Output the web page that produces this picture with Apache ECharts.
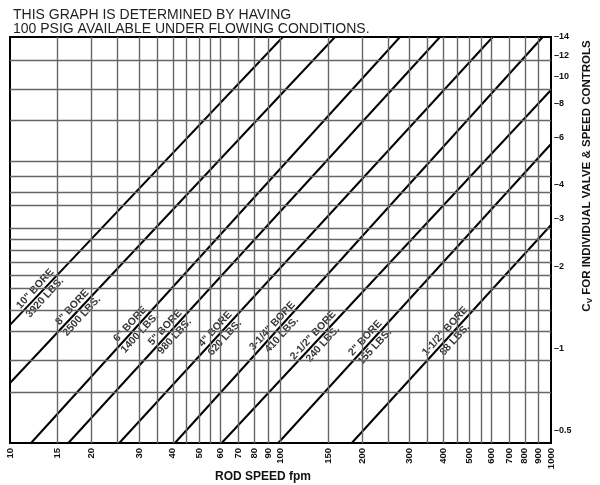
<!DOCTYPE html>
<html><head><meta charset="utf-8">
<script src="https://cdn.jsdelivr.net/npm/echarts@6/dist/echarts.min.js"></script>
<style>html,body{margin:0;padding:0;background:#fff}#c{width:600px;height:485px}</style>
</head><body><div id="c"></div>
<script>
// Axis ranges
const speedMin = 10, speedMax = 1000;
const cvMin = 0.45, cvMax = 14;
// Tick labels
const speedLabels = [10,15,20,30,40,50,60,70,80,90,100,150,200,300,400,500,600,700,800,900,1000];
const cvLabels = [0.5,1,2,3,4,6,8,10,12,14];
// Grid lines
const speedGrid = [15,20,25,30,35,40,45,50,55,60,70,80,90,100,150,200,250,300,350,400,450,500,550,600,700,800,900];
const cvGrid = [0.688,0.909,1.162,1.376,1.67,1.87,2.08,2.31,2.53,2.78,3.36,3.77,4.32,4.90,6.93,9.01,11.52];
// Bore lines: [speed fpm, Cv] at both ends
const boreNames  = ['10" BORE','8" BORE','6" BORE','5" BORE','4" BORE','3-1/4" BORE','2-1/2" BORE','2" BORE','1-1/2" BORE'];
const boreForces = ['3920 LBS.','2500 LBS.','1400 LBS.','980 LBS.','620 LBS.','410 LBS.','240 LBS.','155 LBS.','88 LBS.'];
const boreStart = [[10,1.223],[10,0.748],[11.96,0.45],[16.43,0.45],[25.35,0.45],[40.7,0.45],[60.6,0.45],[98.1,0.45],[183.4,0.45]];
const boreEnd   = [[102,14],[159,14],[276.5,14],[388.7,14],[608.9,14],[931.8,14],[1000,8.94],[1000,5.66],[1000,2.85]];
const labelAt   = [[12.91,1.60],[17.69,1.368],[28.98,1.186],[39.0,1.152],[59.75,1.138],[97.1,1.168],[137.6,1.079],[214.2,1.054],[423.2,1.119]];

const FONT = '"Liberation Sans", Arial, Helvetica, sans-serif';
const chart = echarts.init(document.getElementById('c'), null, {renderer:'canvas'});

const series = [];
// grid lines
series.push({
  type:'line', data:[], z:1, silent:true,
  markLine:{
    silent:true, symbol:'none', animation:false,
    label:{show:false},
    lineStyle:{color:'#666', width:1.4, type:'solid'},
    data:[...speedGrid.map(v=>({xAxis:v})), ...cvGrid.map(v=>({yAxis:v}))]
  }
});
// labels
series.push({
  type:'scatter', z:2, silent:true, symbolSize:0,
  data: labelAt.map((p,i)=>({value:p, name:String(i)})),
  label:{
    show:true, position:'inside', rotate:47.5,
    formatter: p => boreNames[+p.name] + '\n' + boreForces[+p.name],
    fontFamily:FONT, fontSize:10.5, fontWeight:'bold', lineHeight:13,
    color:'#000', textBorderColor:'#fff', textBorderWidth:4, align:'center', verticalAlign:'middle'
  }
});
// bore lines
boreStart.forEach((s,i)=>{
  series.push({
    type:'line', z:3, silent:true, symbol:'none', clip:true,
    data:[s, boreEnd[i]],
    lineStyle:{color:'#000', width:2}
  });
});

chart.setOption({
  animation:false,
  backgroundColor:'#fff',
  title:{
    text:'THIS GRAPH IS DETERMINED BY HAVING\n100 PSIG AVAILABLE UNDER FLOWING CONDITIONS.',
    left:8, top:3,
    textStyle:{fontFamily:FONT, fontSize:14, fontWeight:'normal', lineHeight:14, color:'#231f20'}
  },
  grid:{left:10, right:49, top:37, bottom:42, containLabel:false, outerBoundsMode:'none',
        show:true, borderColor:'#000', borderWidth:2, backgroundColor:'transparent'},
  xAxis:{
    type:'log', logBase:10, min:speedMin, max:speedMax,
    name:'ROD SPEED fpm', nameLocation:'middle', nameGap:28, nameMoveOverlap:false,
    nameTextStyle:{fontFamily:FONT, fontSize:12, fontWeight:'bold', color:'#111', padding:[0,35,0,0]},
    axisLine:{show:true, lineStyle:{color:'#000', width:2}},
    axisTick:{show:false}, minorTick:{show:false}, splitLine:{show:false}, minorSplitLine:{show:false},
    axisLabel:{customValues:speedLabels, rotate:90, margin:5, fontFamily:FONT, fontSize:9.5, fontWeight:'bold', color:'#111', formatter:v=>String(Math.round(v))}
  },
  yAxis:{
    type:'log', logBase:10, min:cvMin, max:cvMax, position:'right',
    name:'{c|C}{v|V}{c| FOR INDIVIDUAL VALVE & SPEED CONTROLS}', nameLocation:'middle', nameRotate:90, nameGap:29, nameMoveOverlap:false,
    nameTextStyle:{padding:[0,0,0,128], rich:{
      c:{fontFamily:FONT, fontSize:11.5, fontWeight:'bold', color:'#111'},
      v:{fontFamily:FONT, fontSize:8, fontWeight:'bold', color:'#111', padding:[6,0,0,0]}
    }},
    axisLine:{show:true, lineStyle:{color:'#000', width:2}},
    axisTick:{show:false}, minorTick:{show:false}, splitLine:{show:false}, minorSplitLine:{show:false},
    axisLabel:{customValues:cvLabels, margin:3, fontFamily:FONT, fontSize:9, fontWeight:'bold', color:'#111', formatter:v=>'\u2013'+(Math.round(v*10)/10)}
  },
  series
});
</script></body></html>
